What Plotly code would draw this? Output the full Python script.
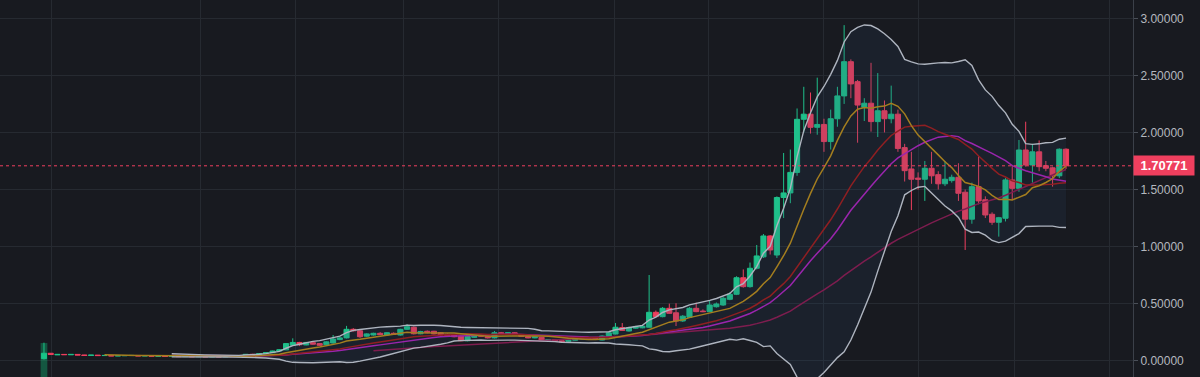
import pandas as pd
import plotly.graph_objects as go

# ---------------- data ----------------
open_ = [
    .018, .065, .051, .055, .052, .055, .050, .046, .049, .045,
    .046, .042, .044, .045, .046, .042, .044, .040, .041, .037,
    .039, .036, .038, .035, .037, .034, .036, .034, .037, .036,
    .045, .056, .052, .062, .070, .085, .095, .135, .160, .138,
    .158, .150, .140, .155, .185, .200, .275, .262, .215, .225,
    .240, .225, .240, .225, .275, .293, .236, .258, .258, .245,
    .232, .225, .216, .175, .205, .222, .215, .200, .245, .235,
    .245, .228, .212, .200, .205, .180, .185, .175, .170, .180,
    .190, .198, .200, .181, .205, .234, .290, .260, .285, .288,
    .293, .424, .386, .459, .420, .348, .380, .459, .435, .430,
    .473, .488, .538, .582, .727, .649, .810, .910, 1.093, .926,
    1.430, 1.470, 1.650, 2.115, 2.160, 2.045, 2.070, 1.920, 2.120, 2.320,
    2.620, 2.445, 2.220, 2.256, 2.095, 2.190, 2.120, 2.160, 1.867, 1.680,
    1.600, 1.590, 1.686, 1.630, 1.550, 1.578, 1.607, 1.476, 1.240, 1.525,
    1.410, 1.283, 1.213, 1.248, 1.584, 1.510, 1.846, 1.715, 1.830, 1.709,
    1.690, 1.620, 1.853,
]
high = [
    .158, .066, .057, .056, .056, .056, .051, .050, .050, .047,
    .047, .045, .046, .047, .047, .045, .045, .042, .042, .040,
    .040, .039, .039, .038, .038, .037, .037, .038, .038, .047,
    .058, .060, .064, .072, .088, .100, .155, .196, .165, .165,
    .162, .155, .170, .225, .210, .305, .285, .268, .240, .245,
    .250, .250, .248, .280, .319, .300, .262, .265, .262, .250,
    .238, .230, .220, .215, .225, .228, .220, .260, .252, .250,
    .250, .232, .216, .214, .208, .190, .188, .178, .184, .194,
    .200, .202, .204, .222, .250, .330, .330, .298, .305, .310,
    .751, .440, .470, .500, .503, .400, .470, .508, .450, .530,
    .510, .560, .600, .740, .800, .860, 1.014, 1.110, 1.100, 1.440,
    1.820, 1.850, 2.210, 2.400, 2.350, 2.480, 2.120, 2.200, 2.400, 2.940,
    2.640, 2.460, 2.300, 2.610, 2.520, 2.280, 2.410, 2.200, 1.900, 1.830,
    1.650, 1.750, 1.830, 1.660, 1.750, 1.630, 1.730, 1.500, 1.560, 1.790,
    1.440, 1.300, 1.260, 1.600, 1.715, 1.934, 2.094, 1.900, 1.930, 1.750,
    1.700, 1.860, 1.860,
]
low = [
    .010, .052, .050, .051, .051, .049, .045, .045, .044, .044,
    .041, .041, .043, .044, .041, .041, .039, .039, .036, .036,
    .035, .035, .034, .034, .033, .033, .033, .033, .035, .035,
    .044, .050, .051, .060, .068, .082, .092, .130, .128, .135,
    .140, .130, .135, .150, .180, .195, .255, .200, .208, .220,
    .225, .222, .225, .220, .270, .230, .232, .240, .230, .218,
    .210, .205, .170, .170, .200, .210, .195, .195, .230, .230,
    .225, .208, .196, .196, .172, .176, .166, .162, .167, .178,
    .187, .186, .186, .178, .200, .230, .260, .255, .280, .284,
    .290, .380, .380, .410, .304, .340, .375, .425, .425, .425,
    .465, .480, .530, .575, .640, .640, .800, .900, .930, .900,
    1.250, 1.380, 1.620, 2.000, 1.990, 1.980, 1.830, 1.850, 2.050, 2.250,
    2.300, 1.910, 2.100, 2.007, 1.960, 2.000, 2.080, 1.830, 1.570, 1.320,
    1.500, 1.400, 1.550, 1.500, 1.530, 1.560, 1.400, 0.970, 1.200, 1.370,
    1.250, 1.190, 1.087, 1.220, 1.408, 1.480, 1.700, 1.560, 1.660, 1.660,
    1.525, 1.600, 1.680,
]
close = [
    .065, .055, .055, .053, .055, .050, .046, .049, .045, .046,
    .042, .044, .045, .046, .042, .044, .040, .041, .037, .039,
    .036, .038, .035, .037, .034, .036, .034, .037, .036, .045,
    .056, .052, .062, .070, .085, .095, .150, .160, .140, .160,
    .145, .135, .165, .190, .200, .275, .262, .210, .235, .240,
    .228, .245, .230, .275, .298, .236, .255, .245, .235, .225,
    .215, .210, .175, .212, .220, .215, .200, .245, .235, .245,
    .228, .212, .200, .210, .175, .185, .170, .165, .180, .190,
    .196, .190, .190, .216, .245, .293, .265, .290, .300, .302,
    .424, .386, .459, .415, .348, .390, .459, .430, .430, .488,
    .497, .547, .582, .727, .649, .810, .918, 1.093, .970, 1.430,
    1.470, 1.650, 2.115, 2.160, 2.045, 2.070, 1.920, 2.120, 2.320, 2.620,
    2.425, 2.240, 2.256, 2.095, 2.190, 2.120, 2.160, 1.860, 1.665, 1.590,
    1.590, 1.686, 1.620, 1.550, 1.590, 1.607, 1.467, 1.240, 1.525, 1.400,
    1.277, 1.213, 1.253, 1.584, 1.510, 1.846, 1.715, 1.830, 1.700, 1.686,
    1.620, 1.853, 1.70771,
]
candle_idx = list(range(len(close)))

# time-axis grid positions (in candle units) and price ticks
time_grid = [1.19, 23.35, 37.48, 53.54, 67.67, 84.92, 98.9, 116.0, 130.1, 144.3, 158.5]
price_ticks = [0.0, 0.5, 1.0, 1.5, 2.0, 2.5, 3.0]
last_price = 1.70771
# only the first (listing-day) volume bar reaches into the visible area
volume_idx = [0]
volume_rel = [0.09]

# ---------------- indicators ----------------
s = pd.Series(close)
ma10 = s.rolling(10).mean()
ma20 = s.rolling(20).mean()
ma25 = s.rolling(25).mean()
ma50 = s.rolling(50).mean()
sd20 = s.rolling(20).std(ddof=0)
bb_up = (ma20 + 2 * sd20)
bb_dn = (ma20 - 2 * sd20)
bb_x = candle_idx[19:]

BG = "#181a20"
GRID = "#262a31"
GREEN = "#1fc08a"
RED = "#ef3f5e"

fig = go.Figure()

fig.add_trace(go.Bar(x=volume_idx, y=volume_rel, width=1.0, yaxis="y2",
                     marker=dict(color="rgba(14,203,129,0.35)", line=dict(width=0)),
                     hoverinfo="skip"))

# Bollinger fill
fig.add_trace(go.Scatter(x=bb_x, y=list(bb_up[19:]), mode="lines",
                         line=dict(width=0, color="rgba(0,0,0,0)"), hoverinfo="skip"))
fig.add_trace(go.Scatter(x=bb_x, y=list(bb_dn[19:]), mode="lines", fill="tonexty",
                         fillcolor="rgba(45,75,115,0.16)",
                         line=dict(width=0, color="rgba(0,0,0,0)"), hoverinfo="skip"))

fig.add_trace(go.Candlestick(
    x=candle_idx, open=open_, high=high, low=low, close=close,
    increasing=dict(line=dict(color=GREEN, width=1), fillcolor=GREEN),
    decreasing=dict(line=dict(color=RED, width=1), fillcolor=RED),
    whiskerwidth=0, hoverinfo="skip"))

for series, color in [(ma50, "#7e1d4f"), (ma25, "#9a25ad"), (ma20, "#8f1f22"), (ma10, "#a47e1f")]:
    fig.add_trace(go.Scatter(x=candle_idx, y=list(series), mode="lines",
                             line=dict(color=color, width=1.5), hoverinfo="skip"))

for band in (bb_up, bb_dn):
    fig.add_trace(go.Scatter(x=bb_x, y=list(band[19:]), mode="lines",
                             line=dict(color="#aeb4bf", width=1.4), hoverinfo="skip"))

fig.add_shape(type="line", xref="paper", x0=0, x1=1, yref="y", y0=last_price, y1=last_price,
              line=dict(color=RED, width=1, dash="dot"))
fig.add_annotation(xref="paper", x=1, xanchor="left", yref="y", y=last_price, yanchor="middle",
                   text="<b>%.5f</b>" % last_price, showarrow=False,
                   bgcolor=RED, font=dict(color="white", size=13, family="Liberation Sans"),
                   width=56, height=15, borderpad=2)

fig.update_layout(
    width=1200, height=377,
    margin=dict(l=0, r=67, t=0, b=0),
    paper_bgcolor=BG, plot_bgcolor=BG,
    showlegend=False,
    boxgap=0.24, boxgroupgap=0.0,
    xaxis=dict(range=[-6.54, 161.96], tickvals=time_grid, showticklabels=False,
               showgrid=True, gridcolor=GRID, gridwidth=1, zeroline=False,
               rangeslider=dict(visible=False), ticks=""),
    yaxis=dict(range=[-0.1428, 3.1604], side="right", tickvals=price_ticks,
               tickformat=".5f", showgrid=True, gridcolor=GRID, gridwidth=1,
               zeroline=False, showline=True, linecolor="#3b4049", linewidth=1,
               ticks="outside", ticklen=4, tickcolor="#4a4f58",
               tickfont=dict(family="Liberation Sans", size=12, color="#b4b8bf")),
    yaxis2=dict(overlaying="y", range=[0, 1], visible=False, fixedrange=True),
)

fig.write_html("out.html")
